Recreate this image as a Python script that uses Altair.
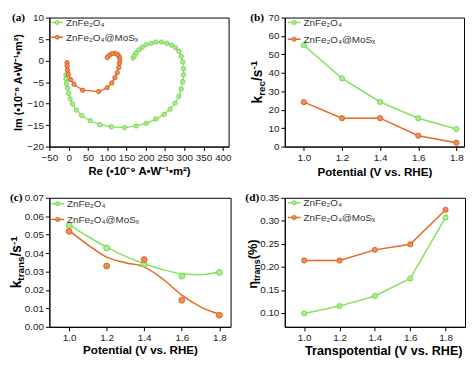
import altair as alt
import pandas as pd

FONT = "Liberation Sans"
SERIF = "Liberation Serif"

GREEN_LINE, GREEN_FILL, GREEN_EDGE = "#86E25E", "#A9EE8A", "#6CCF47"
ORANGE_LINE, ORANGE_FILL, ORANGE_EDGE = "#E8661F", "#F08D52", "#D4561A"

SERIES = ["ZnFe₂O₄", "ZnFe₂O₄@MoSₓ"]

# ---------------- (a) spiral data ----------------
a_green_re = [167, 171, 175, 182, 191, 201, 214, 226, 241, 255, 267, 277, 286, 292, 296, 298, 298, 296,
              292, 286, 276, 263, 248, 226, 201, 175, 145, 111, 81, 56, 34, 20, 10, 4, 0, -3, -6, -7, -7]
a_green_im = [0.6, 1.2, 1.8, 2.5, 3.1, 3.7, 4.0, 4.3, 4.3, 4.0, 3.6, 3.0, 2.2, 1.0, -0.3, -1.9, -3.3, -4.9,
              -6.6, -8.3, -9.9, -11.3, -12.5, -13.6, -14.6, -15.2, -15.6, -15.4, -14.9, -14.0, -12.8, -11.5,
              -10.1, -8.9, -7.6, -6.4, -5.3, -4.2, -3.3]
a_orange_re = [-4, -4, -3, -1, 5, 14, 36, 78, 100, 112, 120, 126, 130, 132, 133, 131, 127, 120, 112, 105, 100]
a_orange_im = [-0.5, -1.2, -2.2, -3.2, -4.4, -5.5, -6.9, -7.2, -6.3, -5.2, -4.0, -2.8, -1.6, -0.6, 0.2, 0.9,
               1.4, 1.7, 1.6, 1.2, 0.7]

# ---------------- (b), (c), (d) ----------------
potential = [1.0, 1.2, 1.4, 1.6, 1.8]
b_green = [55.0, 37.0, 24.2, 15.4, 9.5]
b_orange = [24.1, 15.4, 15.4, 5.9, 2.1]

c_green_pts = [0.0550, 0.0428, 0.0340, 0.0275, 0.0295]
c_orange_pts = [0.0518, 0.0330, 0.0365, 0.0144, 0.0063]
c_fit_x = [1.0, 1.1, 1.2, 1.3, 1.4, 1.5, 1.6, 1.7, 1.8]
c_green_fit = [0.0553, 0.0490, 0.0432, 0.0382, 0.0342, 0.0310, 0.0288, 0.0283, 0.0297]
c_orange_fit = [0.0522, 0.0445, 0.0378, 0.0348, 0.0325, 0.0258, 0.0172, 0.0108, 0.0068]

d_green = [0.099, 0.115, 0.137, 0.175, 0.3075]
d_orange = [0.214, 0.214, 0.237, 0.249, 0.324]

one = pd.DataFrame({"a": [0]})

WID = {'k': 556, 'r': 389, 'e': 556, 'c': 556, 't': 333, 'a': 556, 'n': 611, 's': 556, '/': 278,
       '-': 333, '1': 556, '(': 333, ')': 333, '%': 889, ' ': 278, 'η': 611}


def tw(t, s):
    return sum(WID.get(ch, 556) for ch in t) / 1000.0 * s


def df_of(xs, ys):
    return pd.DataFrame({"x": xs, "y": ys, "i": list(range(len(xs)))})


def series(df, xs, ys, xax, yax, line_col, fill, edge, size, sw, interp="linear",
           line=True, pts=True, ordered=False):
    out = []
    enc = dict(x=alt.X("x:Q", scale=xs, axis=xax), y=alt.Y("y:Q", scale=ys, axis=yax))
    if line:
        e = dict(enc)
        if ordered:
            e["order"] = alt.Order("i:Q")
        out.append(alt.Chart(df).mark_line(color=line_col, strokeWidth=sw, interpolate=interp).encode(**e))
    if pts:
        out.append(alt.Chart(df).mark_circle(size=size, color=fill, stroke=edge, strokeWidth=0.8,
                                             opacity=1).encode(**enc))
    return out


def legend(x0, y0, dy, ln, size, fs=10):
    out = []
    cols = [(GREEN_LINE, GREEN_FILL, GREEN_EDGE), (ORANGE_LINE, ORANGE_FILL, ORANGE_EDGE)]
    for k, (lc, fc, ec) in enumerate(cols):
        y = y0 + k * dy
        out.append(alt.Chart(one).mark_rule(color=lc, strokeWidth=1.5).encode(
            x=alt.value(x0), x2=alt.value(x0 + ln), y=alt.value(y)))
        out.append(alt.Chart(one).mark_circle(size=size, color=fc, stroke=ec, strokeWidth=0.8, opacity=1).encode(
            x=alt.value(x0 + ln / 2), y=alt.value(y)))
        out.append(alt.Chart(one).mark_text(text=SERIES[k], font=FONT, fontSize=fs, color="#333",
                                            align="left", baseline="middle").encode(
            x=alt.value(x0 + ln + 3), y=alt.value(y + 0.5)))
    return out


def rot_title(pieces, xb, yc):
    total = sum(tw(t, s) for t, s, _ in pieces)
    y = yc + total / 2
    out = []
    for t, s, sh in pieces:
        out.append(alt.Chart(one).mark_text(text=t, font=FONT, fontSize=s, fontWeight="bold", color="black",
                                            angle=270, align="left", baseline="alphabetic").encode(
            x=alt.value(xb + sh), y=alt.value(y)))
        y -= tw(t, s)
    return out


def plabel(t, x, y):
    return alt.Chart(one).mark_text(text=t, font=SERIF, fontSize=11.5, fontWeight="bold", color="black",
                                    align="left", baseline="alphabetic").encode(x=alt.value(x), y=alt.value(y))


H = 131

# ---------------- panel (a) ----------------
xs_a = alt.Scale(domain=[-50, 415], nice=False, zero=False)
ys_a = alt.Scale(domain=[-20, 10], nice=False, zero=False)
xax_a = alt.Axis(values=list(range(-50, 401, 50)), title="Re (•10⁻⁹ A•W⁻¹•m²)", titleFontSize=11.5,
                 titlePadding=3)
yax_a = alt.Axis(values=list(range(-20, 11, 5)), title="Im (•10⁻⁸ A•W⁻¹•m²)", titleFontSize=11,
                 titlePadding=3)
la = []
la += series(df_of(a_green_re, a_green_im), xs_a, ys_a, xax_a, yax_a, GREEN_LINE, GREEN_FILL, GREEN_EDGE,
             20, 1.3, ordered=True)
la += series(df_of(a_orange_re, a_orange_im), xs_a, ys_a, xax_a, yax_a, ORANGE_LINE, ORANGE_FILL,
             ORANGE_EDGE, 20, 1.3, ordered=True)
la += legend(2, 5, 15, 12, 16)
la.append(plabel("(a)", -38, 3))
pa = alt.layer(*la).properties(width=182, height=H)

# ---------------- panel (b) ----------------
xs_b = alt.Scale(domain=[0.9, 1.84], nice=False, zero=False)
ys_b = alt.Scale(domain=[0, 70], nice=False, zero=False)
xax_b = alt.Axis(values=potential, format=".1f", title="Potential (V vs. RHE)", titleFontSize=11.8,
                 titlePadding=4)
yax_b = alt.Axis(values=list(range(0, 71, 10)), title=None)
lb = []
lb += series(df_of(potential, b_green), xs_b, ys_b, xax_b, yax_b, GREEN_LINE, GREEN_FILL, GREEN_EDGE, 28, 1.5)
lb += series(df_of(potential, b_orange), xs_b, ys_b, xax_b, yax_b, ORANGE_LINE, ORANGE_FILL, ORANGE_EDGE,
             28, 1.5)
lb += legend(3, 5, 17, 13, 18)
lb += rot_title([("k", 14, 0), ("rec", 10, 3), ("/s", 14, 0), ("-1", 10, -5)], -23, H / 2)
lb.append(plabel("(b)", -35, 3))
pb = alt.layer(*lb).properties(width=182, height=H)

# ---------------- panel (c) ----------------
xs_c = alt.Scale(domain=[0.895, 1.86], nice=False, zero=False)
ys_c = alt.Scale(domain=[0, 0.07], nice=False, zero=False)
xax_c = alt.Axis(values=potential, format=".1f", title="Potential (V vs. RHE)", titleFontSize=11.8,
                 titlePadding=2)
yax_c = alt.Axis(values=[0, 0.01, 0.02, 0.03, 0.04, 0.05, 0.06, 0.07], format=".2f", title=None)
lc = []
lc += series(df_of(c_fit_x, c_green_fit), xs_c, ys_c, xax_c, yax_c, GREEN_LINE, GREEN_FILL, GREEN_EDGE,
             36, 1.5, interp="monotone", pts=False)
lc += series(df_of(c_fit_x, c_orange_fit), xs_c, ys_c, xax_c, yax_c, ORANGE_LINE, ORANGE_FILL,
             ORANGE_EDGE, 36, 1.5, interp="monotone", pts=False)
lc += series(df_of(potential, c_green_pts), xs_c, ys_c, xax_c, yax_c, GREEN_LINE, GREEN_FILL, GREEN_EDGE,
             36, 1.5, line=False)
lc += series(df_of(potential, c_orange_pts), xs_c, ys_c, xax_c, yax_c, ORANGE_LINE, ORANGE_FILL,
             ORANGE_EDGE, 36, 1.5, line=False)
lc += legend(2, 6, 16, 13, 18)
lc += rot_title([("k", 14, 0), ("trans", 10, 3), ("/s", 14, 0), ("-1", 10, -4)], -29, H / 2)
lc.append(plabel("(c)", -40, 3))
pc = alt.layer(*lc).properties(width=184, height=H)

# ---------------- panel (d) ----------------
xs_d = alt.Scale(domain=[0.89, 1.91], nice=False, zero=False)
ys_d = alt.Scale(domain=[0.07, 0.35], nice=False, zero=False)
xax_d = alt.Axis(values=potential, format=".1f", title="Transpotential (V vs. RHE)", titleFontSize=12.8,
                 titlePadding=2, titleX=100)
yax_d = alt.Axis(values=[0.10, 0.15, 0.20, 0.25, 0.30, 0.35], format=".2f", title=None)
ld = []
ld += series(df_of(potential, d_green), xs_d, ys_d, xax_d, yax_d, GREEN_LINE, GREEN_FILL, GREEN_EDGE, 28, 1.5)
ld += series(df_of(potential, d_orange), xs_d, ys_d, xax_d, yax_d, ORANGE_LINE, ORANGE_FILL, ORANGE_EDGE,
             28, 1.5)
ld += legend(3, 5, 15, 13, 18)
ld += rot_title([("η", 13, 0), ("trans", 9, 3), (" (%)", 13, 0)], -28, H / 2)
ld.append(plabel("(d)", -40, 3))
pd_ = alt.layer(*ld).properties(width=183, height=H)

chart = alt.concat(pa, pb, pc, pd_, columns=2, spacing={"row": 52, "column": 55}, bounds="flush").properties(
    padding={"left": 0, "top": 0, "right": 0, "bottom": 0}
).configure_view(stroke="black", strokeWidth=1).configure_axis(
    grid=False, domainColor="black", domainWidth=1, tickColor="black", tickSize=4, tickWidth=1,
    labelFont=FONT, labelFontSize=10, labelColor="#1a1a1a", labelPadding=2, labelFlush=False,
    labelOverlap=False, titleFont=FONT, titleFontWeight="bold", titleColor="black"
)

chart.save("out.html", embed_options={"renderer": "svg", "actions": False})
